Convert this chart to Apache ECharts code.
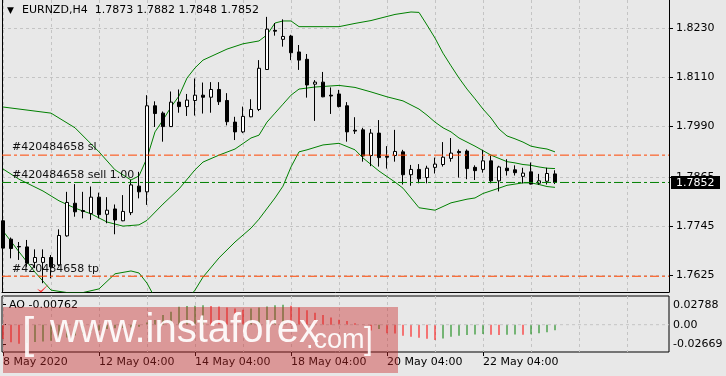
<!DOCTYPE html>
<html><head><meta charset="utf-8">
<script src="https://cdn.jsdelivr.net/npm/echarts@6/dist/echarts.min.js"></script>
<style>html,body{margin:0;padding:0;background:#e8e8e8}#c{width:726px;height:376px}</style>
</head><body><div id="c"></div>
<script>
const title = 'EURNZD,H4';
const lastOHLC = ['1.7873', '1.7882', '1.7848', '1.7852'];
const open = [1.7758,1.7713,1.7695,1.7694,1.7656,1.7656,1.7668,1.7650,1.7721,1.7801,1.7783,1.7776,1.7816,1.7774,1.7787,1.7758,1.7778,1.7843,1.7829,1.8040,1.8022,1.7989,1.8049,1.8038,1.8053,1.8066,1.8061,1.8080,1.8053,1.8000,1.7976,1.8013,1.8031,1.8129,1.8225,1.8203,1.8211,1.8172,1.8154,1.8093,1.8098,1.8066,1.8069,1.8040,1.7980,1.7981,1.7918,1.7973,1.7916,1.7918,1.7927,1.7871,1.7884,1.7864,1.7889,1.7896,1.7911,1.7928,1.7929,1.7889,1.7884,1.7905,1.7856,1.7887,1.7883,1.7867,1.7878,1.7850,1.7855,1.7873];
const close = [1.7691,1.7690,1.7694,1.7654,1.7668,1.7668,1.7645,1.7722,1.7803,1.7780,1.7781,1.7816,1.7773,1.7784,1.7760,1.7781,1.7846,1.7829,1.8040,1.8021,1.7989,1.8049,1.8038,1.8054,1.8066,1.8061,1.8080,1.8050,1.8001,1.7976,1.8014,1.8031,1.8132,1.8228,1.8223,1.8210,1.8170,1.8152,1.8091,1.8098,1.8062,1.8064,1.8038,1.7976,1.7978,1.7917,1.7973,1.7913,1.7914,1.7928,1.7871,1.7884,1.7861,1.7887,1.7897,1.7914,1.7924,1.7925,1.7886,1.7881,1.7905,1.7856,1.7890,1.7881,1.7876,1.7875,1.7848,1.7856,1.7874,1.7852];
const high = [1.7760,1.7717,1.7706,1.7711,1.7688,1.7688,1.7674,1.7737,1.7829,1.7848,1.7829,1.7842,1.7827,1.7816,1.7798,1.7821,1.7858,1.7878,1.8066,1.8051,1.8026,1.8075,1.8080,1.8069,1.8107,1.8097,1.8098,1.8098,1.8071,1.8013,1.8038,1.8056,1.8152,1.8258,1.8243,1.8252,1.8214,1.8189,1.8167,1.8103,1.8123,1.8085,1.8079,1.8049,1.8012,1.7986,1.7983,1.8005,1.7941,1.7981,1.7932,1.7895,1.7897,1.7893,1.7913,1.7951,1.7961,1.7933,1.7933,1.7894,1.7932,1.7918,1.7893,1.7909,1.7894,1.7888,1.7901,1.7873,1.7888,1.7882];
const low = [1.7689,1.7666,1.7662,1.7645,1.7642,1.7605,1.7617,1.7647,1.7719,1.7768,1.7764,1.7760,1.7764,1.7752,1.7725,1.7757,1.7772,1.7813,1.7797,1.7988,1.7952,1.7988,1.8023,1.8015,1.8016,1.8021,1.8023,1.8042,1.7992,1.7956,1.7973,1.8012,1.8027,1.8128,1.8212,1.8185,1.8152,1.8128,1.8060,1.8003,1.8061,1.8020,1.8036,1.7952,1.7971,1.7903,1.7892,1.7891,1.7886,1.7903,1.7847,1.7844,1.7850,1.7850,1.7874,1.7891,1.7903,1.7864,1.7860,1.7858,1.7876,1.7850,1.7830,1.7869,1.7869,1.7850,1.7847,1.7846,1.7847,1.7848];
const bbUpper = [[0,1.8037],[6,1.8022],[9,1.7986],[12,1.7927],[14,1.7883],[16,1.7858],[17,1.7868],[18,1.7912],[19,1.7976],[20,1.8005],[21,1.8037],[22,1.8064],[23,1.8108],[24,1.8133],[25,1.8152],[28,1.8179],[30,1.8192],[32,1.8199],[33,1.8214],[34,1.8243],[35,1.8248],[36,1.8248],[37,1.8234],[42,1.8234],[44,1.8242],[46,1.8249],[49,1.8264],[51,1.8270],[52,1.8269],[53,1.8238],[54,1.8206],[55,1.8169],[56,1.8138],[57,1.8108],[58,1.8081],[59,1.8057],[60,1.8032],[61,1.8010],[62,1.7983],[63,1.7966],[64,1.7959],[65,1.7951],[66,1.7941],[67,1.7937],[68,1.7934],[69,1.7927]];
const bbMiddle = [[0,1.7885],[2,1.7860],[5,1.7831],[7,1.7807],[9,1.7789],[11,1.7775],[13,1.7755],[15,1.7745],[17,1.7748],[18,1.7759],[20,1.7799],[22,1.7836],[24,1.7883],[25,1.7902],[27,1.7919],[29,1.7934],[31,1.7961],[32,1.7968],[33,1.8000],[34,1.8022],[35,1.8044],[36,1.8066],[37,1.8081],[39,1.8086],[42,1.8090],[44,1.8085],[46,1.8074],[48,1.8062],[49,1.8057],[50,1.8052],[51,1.8042],[52,1.8032],[53,1.8017],[54,1.8000],[55,1.7986],[56,1.7976],[57,1.7961],[58,1.7951],[59,1.7941],[60,1.7930],[61,1.7919],[62,1.7911],[63,1.7903],[64,1.7900],[65,1.7896],[66,1.7894],[67,1.7890],[68,1.7887],[69,1.7886]];
const bbLower = [[0,1.7733],[2,1.7682],[4,1.7632],[6,1.7588],[8,1.7582],[10,1.7582],[12,1.7591],[14,1.7628],[16,1.7635],[17,1.7630],[18,1.7605],[19,1.7569],[21,1.7539],[23,1.7564],[24,1.7588],[25,1.7620],[27,1.7667],[29,1.7706],[31,1.7740],[32,1.7762],[34,1.7814],[35,1.7843],[36,1.7890],[37,1.7927],[38,1.7932],[40,1.7944],[42,1.7948],[44,1.7932],[45,1.7912],[47,1.7880],[49,1.7853],[50,1.7838],[51,1.7814],[52,1.7790],[54,1.7784],[56,1.7802],[58,1.7811],[59,1.7814],[60,1.7825],[62,1.7838],[63,1.7845],[65,1.7851],[66,1.7851],[67,1.7847],[68,1.7842],[69,1.7840]];
const ao = [-0.0200,-0.0245,-0.0267,-0.0255,-0.0240,-0.0235,-0.0225,-0.0200,-0.0180,-0.0150,-0.0125,-0.0100,-0.0080,-0.0060,-0.0050,-0.0045,-0.0040,-0.0030,0.0030,0.0065,0.0134,0.0180,0.0250,0.0260,0.0265,0.0270,0.0262,0.0255,0.0240,0.0225,0.0210,0.0225,0.0240,0.0255,0.0270,0.0279,0.0265,0.0240,0.0200,0.0165,0.0135,0.0100,0.0070,0.0051,0.0020,-0.0005,-0.0080,-0.0060,-0.0120,-0.0122,-0.0153,-0.0167,-0.0181,-0.0195,-0.0213,-0.0192,-0.0167,-0.0153,-0.0142,-0.0135,-0.0130,-0.0140,-0.0145,-0.0140,-0.0135,-0.0139,-0.0133,-0.0120,-0.0105,-0.00762];
const aoLabel = 'AO -0.00762';
const timeTickIdx = [0, 12, 24, 36, 48, 60];
const timeLabels = ['8 May 2020', '12 May 04:00', '14 May 04:00', '18 May 04:00', '20 May 04:00', '22 May 04:00'];
const gridIdx = [0, 6, 12, 18, 24, 30, 36, 42, 48, 54, 60, 66, 72, 78];
const priceTicks = [1.7625, 1.7745, 1.7865, 1.7990, 1.8110, 1.8230];
const priceLabels = ['1.7625', '1.7745', '1.7865', '1.7990', '1.8110', '1.8230'];
const aoTicks = [-0.02669, 0, 0.02788];
const aoTickLabels = ['-0.02669', '0.00', '0.02788'];
const orderId = '#420484658';
const orderNames = ['sl', 'sell 1.00', 'tp'];
const orderPrices = [1.7919, 1.7852, 1.7622];
const bidPrice = 1.7852;
const tpHitBar = 5;

const FONT = 'DejaVu Sans';
const X_MIN = -0.125, X_MAX = 83.25;
const chart = echarts.init(document.getElementById('c'), null, {renderer: 'canvas'});
const candles = open.map((o, i) => [i, o, close[i], low[i], high[i]]);
const aoData = ao.map((v, i) => ({value: [i, v], itemStyle: {color: (i === 0 || v < ao[i - 1]) ? '#ff0000' : '#008000'}}));
const fmtLabel = (vals, labels) => v => { const k = vals.findIndex(t => Math.abs(t - v) < 1e-7); return k >= 0 ? labels[k] : ''; };
const gridLine = {show: true, lineStyle: {color: '#c4c4c4', type: [3, 3], width: 1}};
const dashDot = [9, 3, 3, 3];
const orderColors = ['#ff4500', '#008000', '#ff4500'];

const hLine = (price, color, type, xi, yi) => ({type: 'line', xAxisIndex: xi, yAxisIndex: yi, data: [[X_MIN, price], [X_MAX, price]],
  symbol: 'none', silent: true, z: 5, lineStyle: {color: color, type: type, width: 1}, clip: true});

const series = [
  {type: 'line', xAxisIndex: 0, yAxisIndex: 0, data: bbUpper, symbol: 'none', lineStyle: {color: '#008000', width: 1}, clip: true, silent: true, z: 3},
  {type: 'line', xAxisIndex: 0, yAxisIndex: 0, data: bbMiddle, symbol: 'none', lineStyle: {color: '#008000', width: 1}, clip: true, silent: true, z: 3},
  {type: 'line', xAxisIndex: 0, yAxisIndex: 0, data: bbLower, symbol: 'none', lineStyle: {color: '#008000', width: 1}, clip: true, silent: true, z: 3},
  {type: 'candlestick', xAxisIndex: 0, yAxisIndex: 0, data: candles, encode: {x: 0, y: [1, 2, 3, 4]}, barWidth: 4, clip: true, z: 4,
   itemStyle: {color: '#ffffff', color0: '#000000', borderColor: '#000000', borderColor0: '#000000', borderWidth: 1}},
  {type: 'scatter', xAxisIndex: 0, yAxisIndex: 0, data: [[tpHitBar, orderPrices[2]]], symbol: 'path://M0,5 L4,9 L12,0 L4,7 Z',
   symbolSize: [12, 9], symbolOffset: [0, 12], itemStyle: {color: '#ff0000'}, silent: true, z: 6},
  {type: 'bar', xAxisIndex: 1, yAxisIndex: 2, data: aoData, barWidth: 1, silent: true, z: 3},
  hLine(0, '#c4c4c4', [3, 3], 1, 2)
];
orderPrices.forEach((p, k) => series.push(hLine(p, orderColors[k], dashDot, 0, 0)));

chart.setOption({
  animation: false,
  backgroundColor: '#e8e8e8',
  textStyle: {fontFamily: FONT},
  grid: [
    {left: 2, right: 57, top: 0, height: 292, show: false},
    {left: 2, right: 57, top: 296, height: 56, show: true, borderColor: '#000', borderWidth: 1, backgroundColor: 'transparent'}
  ],
  xAxis: [
    {type: 'value', gridIndex: 0, min: X_MIN, max: X_MAX, axisLine: {show: true, onZero: false, lineStyle: {color: '#000'}},
     axisTick: {show: false, customValues: gridIdx}, axisLabel: {show: false}, splitLine: gridLine},
    {type: 'value', gridIndex: 1, min: X_MIN, max: X_MAX, axisLine: {show: false},
     axisTick: {show: false, customValues: gridIdx}, axisLabel: {show: false}, splitLine: gridLine},
    {type: 'value', gridIndex: 1, min: X_MIN, max: X_MAX, position: 'bottom', axisLine: {show: false},
     axisTick: {show: true, length: 4, customValues: timeTickIdx, lineStyle: {color: '#000'}},
     axisLabel: {show: true, customValues: timeTickIdx, formatter: fmtLabel(timeTickIdx, timeLabels), align: 'left', margin: 5, color: '#000', fontSize: 11, fontFamily: FONT},
     splitLine: {show: false}}
  ],
  yAxis: [
    {type: 'value', gridIndex: 0, position: 'right', min: 1.75834, max: 1.82994, axisLine: {show: true, onZero: false, lineStyle: {color: '#000'}},
     axisTick: {show: true, length: 4, customValues: priceTicks, lineStyle: {color: '#000'}},
     axisLabel: {show: true, customValues: priceTicks, formatter: fmtLabel(priceTicks, priceLabels), margin: 7, color: '#000', fontSize: 11, fontFamily: FONT},
     splitLine: gridLine},
    {type: 'value', gridIndex: 0, position: 'left', min: 1.75834, max: 1.82994, axisLine: {show: true, onZero: false, lineStyle: {color: '#000'}},
     axisTick: {show: false}, axisLabel: {show: false}, splitLine: {show: false}},
    {type: 'value', gridIndex: 1, position: 'right', min: -0.03806, max: 0.04001, axisLine: {show: false},
     axisTick: {show: true, length: 3, customValues: aoTicks, lineStyle: {color: '#000'}},
     axisLabel: {show: true, customValues: aoTicks, formatter: fmtLabel(aoTicks, aoTickLabels), margin: 4, color: '#000', fontSize: 11, fontFamily: FONT},
     splitLine: {show: false}}
  ],
  series: series
});

const px = (x, y) => chart.convertToPixel({xAxisIndex: 0, yAxisIndex: 0}, [x, y]);
const graphics = [
  {type: 'text', left: 7, top: 6, style: {text: '▼', fill: '#000', font: '9px ' + FONT}},
  {type: 'text', left: 22, top: 5, style: {text: title + '  ' + lastOHLC.join(' '), fill: '#000', font: '11px ' + FONT}},
  {type: 'text', left: 9, top: 300, style: {text: aoLabel, fill: '#000', font: '11px ' + FONT}}
];
orderPrices.forEach((p, k) => {
  const pt = px(0, p);
  graphics.push({type: 'text', x: 12, y: pt[1] - 2, style: {text: orderId + ' ' + orderNames[k], fill: '#111', font: '11px ' + FONT, textVerticalAlign: 'bottom', verticalAlign: 'bottom'}, z: 10});
});
const bidPt = px(X_MAX, bidPrice);
graphics.push({type: 'rect', shape: {x: bidPt[0] + 2, y: Math.round(bidPt[1]) - 6, width: 49, height: 13}, style: {fill: '#000'}, z: 10});
graphics.push({type: 'text', x: bidPt[0] + 7, y: Math.round(bidPt[1]) + 1, style: {text: bidPrice.toFixed(4), fill: '#fff', font: '11px ' + FONT, verticalAlign: 'middle', textVerticalAlign: 'middle'}, z: 11});
graphics.push(
  {type: 'rect', shape: {x: 3, y: 307, width: 395, height: 66}, style: {fill: 'rgba(200,40,40,0.42)'}, z: 100},
  {type: 'text', left: 22, top: 314, style: {text: '[', fill: 'rgba(255,255,255,0.9)', font: '200 44px "Liberation Sans"'}, z: 101},
  {type: 'text', left: 50, top: 311, style: {text: 'www.instaforex', fill: 'rgba(255,255,255,0.92)', font: '40px "Liberation Sans"'}, z: 101},
  {type: 'text', left: 306, top: 327, style: {text: '.com', fill: 'rgba(255,255,255,0.92)', font: '27px "Liberation Sans"'}, z: 101},
  {type: 'text', left: 364, top: 324, style: {text: ']', fill: 'rgba(255,255,255,0.9)', font: '200 32px "Liberation Sans"'}, z: 101}
);
chart.setOption({graphic: graphics});
</script></body></html>
